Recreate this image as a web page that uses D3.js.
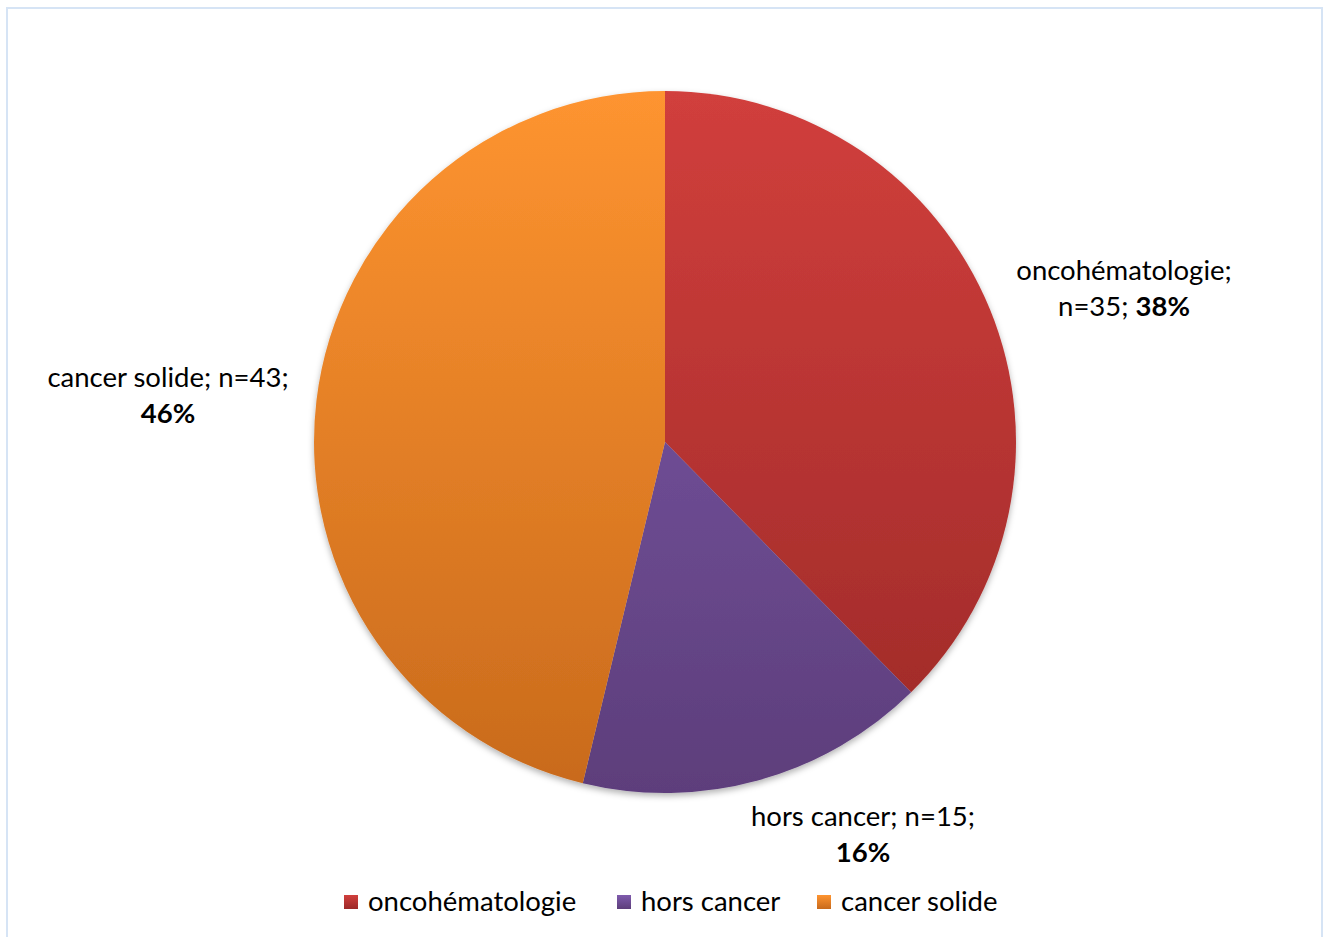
<!DOCTYPE html>
<html lang="fr">
<head>
  <meta charset="UTF-8">
  <title>Répartition des patients</title>
  <script src="https://d3js.org/d3.v7.min.js"></script>
  <style>
    body { margin: 0; background: #fff; }
    text { font-family: Lato, "Open Sans", sans-serif; fill: #000; }
  </style>
</head>
<body>
<svg width="1325" height="937"></svg>
<script>
  const categories = ["oncohématologie", "hors cancer", "cancer solide"];
  const counts = [35, 15, 43];
  const percents = ["38%", "16%", "46%"];
  const colorsTop = ["#d13f3c", "#7f5bad", "#fe9430"];
  const colorsBottom = ["#9c2928", "#5d3e7b", "#c86a1c"];

  const svg = d3.select("svg"),
        width = +svg.attr("width"),
        height = +svg.attr("height");

  // chart frame
  svg.append("rect")
      .attr("x", 7).attr("y", 8)
      .attr("width", 1315).attr("height", 940)
      .attr("fill", "#fff")
      .attr("stroke", "#d6e4f5")
      .attr("stroke-width", 2);

  const cx = 665, cy = 442, r = 351;

  const defs = svg.append("defs");
  // gradient in the pie's local coordinates (centre at 0,0)
  categories.forEach((c, i) => {
    const g = defs.append("linearGradient")
        .attr("id", "grad" + i)
        .attr("gradientUnits", "userSpaceOnUse")
        .attr("x1", 0).attr("y1", -r)
        .attr("x2", 0).attr("y2", r);
    g.append("stop").attr("offset", "0%").attr("stop-color", colorsTop[i]);
    g.append("stop").attr("offset", "100%").attr("stop-color", colorsBottom[i]);
  });

  const shadow = defs.append("filter").attr("id", "shadow")
      .attr("x", "-10%").attr("y", "-10%").attr("width", "120%").attr("height", "120%");
  shadow.append("feDropShadow")
      .attr("dx", 0).attr("dy", 3).attr("stdDeviation", 3)
      .attr("flood-color", "#000").attr("flood-opacity", 0.3);

  const pie = d3.pie().sort(null).value(d => d);
  const arcs = pie(counts);
  const arc = d3.arc().innerRadius(0).outerRadius(r);

  svg.append("g")
      .attr("transform", `translate(${cx},${cy})`)
      .attr("filter", "url(#shadow)")
    .selectAll("path")
    .data(arcs)
    .enter().append("path")
      .attr("d", arc)
      .attr("fill", (d, i) => `url(#grad${i})`);

  // data labels, centred, two lines each; the percentage is bold
  const labelPos = [
    { x: 1124, y: 280, lines: [[categories[0] + ";", ""], ["n=" + counts[0] + "; ", percents[0]]] },
    { x: 863, y: 826, lines: [[categories[1] + "; n=" + counts[1] + ";", ""], ["", percents[1]]] },
    { x: 168, y: 387, lines: [[categories[2] + "; n=" + counts[2] + ";", ""], ["", percents[2]]] }
  ];

  labelPos.forEach(lp => {
    lp.lines.forEach((ln, j) => {
      const t = svg.append("text")
          .attr("x", lp.x)
          .attr("y", lp.y + j * 36)
          .attr("text-anchor", "middle")
          .style("font-size", "27.5px");
      if (ln[0]) t.append("tspan").text(ln[0]);
      if (ln[1]) t.append("tspan").style("font-weight", "bold").text(ln[1]);
    });
  });

  // legend
  const legendX = [344, 617, 817];
  const legend = svg.append("g");
  categories.forEach((c, i) => {
    const lg = defs.append("linearGradient")
        .attr("id", "legGrad" + i)
        .attr("x1", 0).attr("y1", 0).attr("x2", 0).attr("y2", 1);
    lg.append("stop").attr("offset", "0%").attr("stop-color", colorsTop[i]);
    lg.append("stop").attr("offset", "100%").attr("stop-color", colorsBottom[i]);
    legend.append("rect")
        .attr("x", legendX[i]).attr("y", 895)
        .attr("width", 14).attr("height", 14)
        .attr("fill", `url(#legGrad${i})`);
    legend.append("text")
        .attr("x", legendX[i] + 24)
        .attr("y", 911)
        .style("font-size", "27.5px")
        .text(c);
  });
</script>
</body>
</html>
